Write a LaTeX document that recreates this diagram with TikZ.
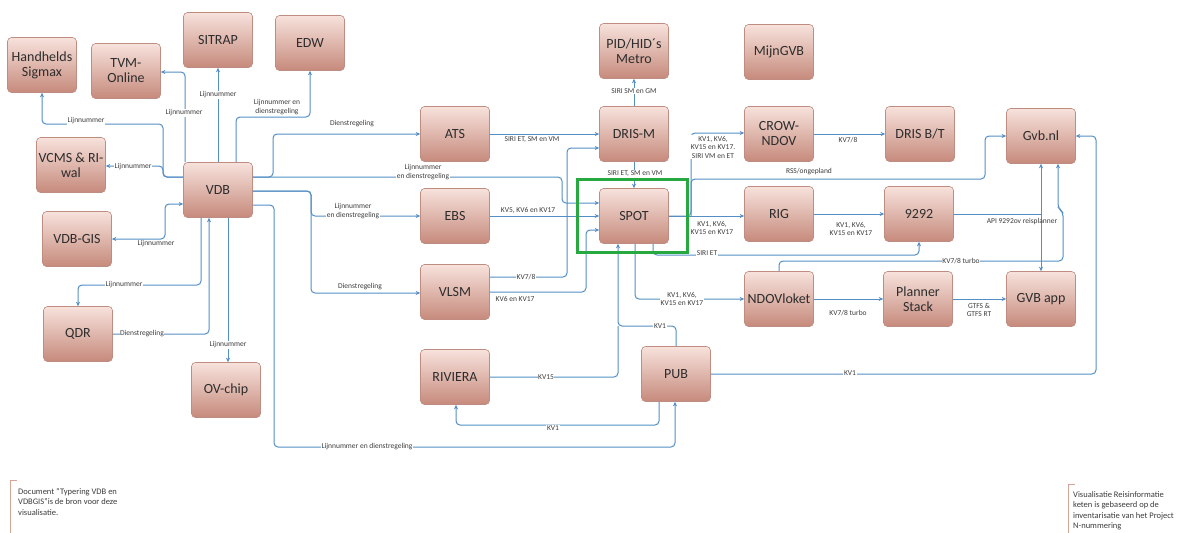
\documentclass[tikz,border=0pt]{standalone}
\usepackage{fontspec}
\setmainfont{Carlito}
\usetikzlibrary{arrows.meta}
\definecolor{boxtop}{RGB}{247,226,220}
\definecolor{boxbot}{RGB}{198,138,124}
\definecolor{boxline}{RGB}{190,140,128}
\definecolor{lineblue}{RGB}{84,142,198}
\definecolor{txt}{RGB}{45,45,45}
\definecolor{lbltxt}{RGB}{60,60,60}
\definecolor{hlgreen}{RGB}{38,170,64}
\definecolor{notebr}{RGB}{212,165,150}
\begin{document}
\begin{tikzpicture}[x=1pt,y=-1pt,
 box/.style={rectangle,rounded corners=4pt,draw=boxline,line width=0.6pt,top color=boxtop,bottom color=boxbot,minimum width=69pt,minimum height=55pt,inner sep=1pt,align=center,text=txt,font=\fontsize{14}{15}\selectfont},
 conn/.style={draw=lineblue,line width=1pt,rounded corners=4pt},
 arr/.style={-{Stealth[length=4.5pt,width=4pt]}},
 darr/.style={{Stealth[length=4.5pt,width=4pt]}-{Stealth[length=4.5pt,width=4pt]}},
 lbl/.style={font=\fontsize{7.5}{8.5}\selectfont,text=lbltxt,fill=white,inner sep=0.6pt,align=center},
 hl/.style={draw=hlgreen,line width=3pt,minimum width=110pt,minimum height=73pt},
 notetext/.style={font=\fontsize{8.5}{10.5}\selectfont,text=lbltxt,align=left,anchor=north west,inner sep=0pt},
 notebracket/.style={draw=notebr,line width=0.8pt}]
\fill[white] (0,0) rectangle (1195,533);
\useasboundingbox (0,0) rectangle (1195,533);

% nodes
\node[box] (HS) at (42,65) {Handhelds\\Sigmax};
\node[box] (TVM) at (126,71) {TVM-\\Online};
\node[box] (SITRAP) at (218,40) {SITRAP};
\node[box] (EDW) at (310,43) {EDW};
\node[box] (VCMS) at (71,165) {VCMS \& RI-\\wal};
\node[box] (VDB) at (218,190) {VDB};
\node[box] (VDBGIS) at (77,239) {VDB-GIS};
\node[box] (QDR) at (78,334) {QDR};
\node[box] (OV) at (226,390) {OV-chip};
\node[box] (ATS) at (455,134) {ATS};
\node[box] (DRISM) at (634,134) {DRIS-M};
\node[box] (PID) at (634,51) {PID/HID´s\\Metro};
\node[box] (MIJN) at (779,52) {MijnGVB};
\node[box] (CROW) at (779,134) {CROW-\\NDOV};
\node[box] (DRISBT) at (920,134) {DRIS B/T};
\node[box] (GVBNL) at (1041,136) {Gvb.nl};
\node[box] (EBS) at (455,216) {EBS};
\node[box] (SPOT) at (634,216) {SPOT};
\node[box] (RIG) at (779,214) {RIG};
\node[box] (N9292) at (919,214) {9292};
\node[box] (VLSM) at (455,292) {VLSM};
\node[box] (NDOV) at (779,299) {NDOVloket};
\node[box] (PLAN) at (918,299) {Planner\\Stack};
\node[box] (APP) at (1041,299) {GVB app};
\node[box] (RIV) at (455,377) {RIVIERA};
\node[box] (PUB) at (676,374) {PUB};

% VDB outgoing left/top
\draw[conn,arr] (VDB.west |- 0,177) -- (163,177) -- (163,124) -- (42,124) -- (HS.south);
\node[lbl] (lHS) at (86,121) {Lijnnummer};
\draw[conn,arr] (VDB.west |- 0,177) -- (163,177) -- (163,166) -- (VCMS.east |- 0,166);
\node[lbl] (lVCMS) at (133,167) {Lijnnummer};
\draw[conn,arr] (185,0 |- VDB.north) -- (185,72) -- (TVM.east |- 0,72);
\node[lbl] (lTVM) at (184,113) {Lijnnummer};
\draw[conn,arr] (VDB.north) -- (SITRAP.south);
\node[lbl] (lSIT) at (218,95) {Lijnnummer};
\draw[conn,arr] (236,0 |- VDB.north) -- (236,117) -- (310,117) -- (EDW.south);
\node[lbl] (lEDW) at (277,107) {Lijnnummer en\\dienstregeling};
\draw[conn,darr] (VDBGIS.east) -- (165,239) -- (165,204) -- (VDB.west |- 0,204);
\node[lbl] (lGIS) at (156,244) {Lijnnummer};
\draw[conn,arr] (201,0 |- VDB.south) -- (201,285) -- (78,285) -- (QDR.north);
\node[lbl] (lQDR) at (124,285) {Lijnnummer};
\draw[conn,arr] (QDR.east |- 0,334) -- (209,334) -- (209,0 |- VDB.south);
\node[lbl] (lQDR2) at (142,334) {Dienstregeling};
\draw[conn,arr] (228,0 |- VDB.south) -- (228,0 |- OV.north);
\node[lbl] (lOV) at (228,345) {Lijnnummer};

% VDB outgoing right
\draw[conn,arr] (VDB.east |- 0,205) -- (274,205) -- (274,447) -- (675,447) -- (675,0 |- PUB.south);
\node[lbl] (lPUB) at (367,447) {Lijnnummer en dienstregeling};
\draw[conn,arr] (VDB.east |- 0,177) -- (273,177) -- (273,134) -- (ATS.west);
\node[lbl] (lATS) at (352,124) {Dienstregeling};
\draw[conn,arr] (VDB.east |- 0,177) -- (562,177) -- (562,203) -- (SPOT.west |- 0,203);
\node[lbl] (lSP1) at (423,172) {Lijnnummer\\en dienstregeling};
\draw[conn,arr] (VDB.east |- 0,191) -- (311,191) -- (311,216) -- (EBS.west);
\node[lbl] (lEBS) at (353,211) {Lijnnummer\\en dienstregeling};
\draw[conn,arr] (VDB.east |- 0,191) -- (311,191) -- (311,293) -- (VLSM.west |- 0,293);
\node[lbl] (lVLSM) at (360,287) {Dienstregeling};

% middle
\draw[conn,arr] (ATS.east) -- (DRISM.west);
\node[lbl] (lAD) at (532,140) {SIRI ET, SM en VM};
\draw[conn,arr] (DRISM.north) -- (PID.south);
\node[lbl] (lPID) at (634,91) {SIRI SM en GM};
\draw[conn,arr] (DRISM.south) -- (SPOT.north);
\node[lbl] (lDS) at (635,174) {SIRI ET, SM en VM};
\draw[conn,arr] (EBS.east) -- (SPOT.west);
\node[lbl] (lES) at (528,210) {KV5, KV6 en KV17};
\draw[conn,arr] (VLSM.east |- 0,277) -- (567,277) -- (567,148) -- (DRISM.west |- 0,148);
\node[lbl] (lVD) at (526,277) {KV7/8};
\draw[conn,arr] (VLSM.east |- 0,292) -- (586,292) -- (586,230) -- (SPOT.west |- 0,230);
\node[lbl] (lVS) at (515,299) {KV6 en KV17};

% SPOT outgoing
\draw[conn,arr] (SPOT.east) -- (691,216) -- (691,133) -- (CROW.west |- 0,133);
\node[lbl] (lCROW) at (713,147) {KV1, KV6,\\KV15 en KV17.\\SIRI VM en ET};
\draw[conn,arr] (SPOT.east) -- (RIG.west |- 0,216);
\node[lbl] (lRIG) at (712,228) {KV1, KV6,\\KV15 en KV17};
\draw[conn,arr] (691,216) -- (691,179) -- (985,179) -- (985,136) -- (GVBNL.west);
\node[lbl] (lRSS) at (809,172) {RSS/ongepland};
\draw[conn,arr] (653,0 |- SPOT.south) -- (653,255) -- (919,255) -- (N9292.south);
\node[lbl] (lSIRI) at (707,253) {SIRI ET};
\draw[conn,arr] (635,0 |- SPOT.south) -- (635,299) -- (NDOV.west);
\node[lbl] (lND) at (682,299) {KV1, KV6,\\KV15 en KV17};

% PUB / RIVIERA
\draw[conn,arr] (676,0 |- PUB.north) -- (676,326) -- (618,326) -- (618,0 |- SPOT.south);
\node[lbl] (lPS) at (660,326) {KV1};
\draw[conn] (RIV.east) -- (618,377) -- (618,326);
\node[lbl] (lRS) at (546,377) {KV15};
\draw[conn,arr] (659,0 |- PUB.south) -- (659,425) -- (456,425) -- (456,0 |- RIV.south);
\node[lbl] (lPR) at (553,428) {KV1};
\draw[conn,arr] (PUB.east) -- (1096,374) -- (1096,136) -- (GVBNL.east);
\node[lbl] (lPG) at (850,373) {KV1};

% right part
\draw[conn,arr] (CROW.east) -- (DRISBT.west |- CROW.east);
\node[lbl] (lCD) at (848,140) {KV7/8};
\draw[conn,arr] (RIG.east) -- (N9292.west |- RIG.east);
\node[lbl] (lR9) at (851,229) {KV1, KV6,\\KV15 en KV17};
\draw[conn] (N9292.east) -- (1041,214);
\draw[conn,darr] (GVBNL.south) -- (APP.north);
\node[lbl,fill=none] (lAPI) at (1022,221) {API 9292ov reisplanner};
\draw[conn,arr] (NDOV.north) -- (779,261) -- (1063,261) -- (1063,212) -- (1058,208) -- (1058,0 |- GVBNL.south);
\node[lbl] (lKT) at (961,261) {KV7/8 turbo};
\draw[conn,arr] (NDOV.east) -- (PLAN.west);
\node[lbl] (lNP) at (848,313) {KV7/8 turbo};
\draw[conn,arr] (PLAN.east) -- (APP.west);
\node[lbl] (lPA) at (979,310) {GTFS \&\\GTFS RT};

% highlight
\node[hl] (HL) at (632,215.5) {};

% notes
\draw[notebracket] (17,480) -- (10,480) -- (10,533);
\node[notetext] (noteL) at (18,488) {Document “Typering VDB en\\VDBGIS”is de bron voor deze\\visualisatie.};
\draw[notebracket] (1075,484) -- (1068,484) -- (1068,533);
\node[notetext] (noteR) at (1073,491) {Visualisatie Reisinformatie\\keten is gebaseerd op de\\inventarisatie van het Project\\N-nummering};
\end{tikzpicture}
\end{document}
